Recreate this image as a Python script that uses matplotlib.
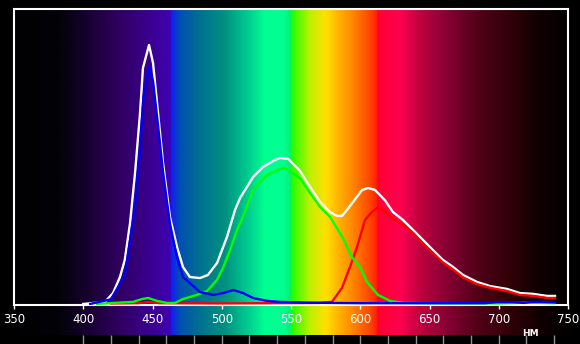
import numpy as np
import matplotlib
matplotlib.use("Agg")
from matplotlib import pyplot as plt
from matplotlib.colors import LinearSegmentedColormap

# spectrum curves (relative units, white peak = 1)
white_nm = [400, 410, 415.7, 421.5, 426.5, 430, 433.8, 437.4, 441, 443.1, 447.5, 450.4, 454, 457.6,
            462.6, 467.7, 472, 477, 484.3, 490, 496.6, 503.8, 509.6, 513.2, 518.2, 522.6, 529.8,
            537, 542, 548, 556.5, 563.7, 570.9, 578.2, 583.2, 586.8, 590.4, 594.8, 601.3, 605.6,
            610.7, 617.9, 623.6, 630.9, 638.1, 645.3, 652.5, 659.7, 667, 674.2, 684.3, 693.7,
            706, 715.4, 724.7, 734.8, 740.6]
white_val = [0.0, 0.005, 0.008, 0.042, 0.104, 0.17, 0.313, 0.506, 0.737, 0.911, 1.0, 0.93, 0.737,
             0.544, 0.336, 0.22, 0.143, 0.104, 0.10, 0.112, 0.158, 0.259, 0.363, 0.409, 0.452,
             0.49, 0.529, 0.552, 0.564, 0.56, 0.514, 0.452, 0.394, 0.355, 0.34, 0.34, 0.363,
             0.394, 0.44, 0.448, 0.44, 0.40, 0.355, 0.324, 0.286, 0.247, 0.208, 0.17, 0.143,
             0.112, 0.085, 0.069, 0.058, 0.042, 0.039, 0.031, 0.031]

blue_nm = [405, 420, 430, 437, 441, 443.5, 447.5, 450.4, 454, 457.6, 462.6, 467.7, 472, 477, 484.3,
           493.7, 501, 508.3, 515.5, 522.6, 532.7, 542, 560, 600, 650, 690, 699, 710, 718, 723,
           730, 740]
blue_val = [0.0, 0.018, 0.11, 0.36, 0.6, 0.8, 0.915, 0.86, 0.69, 0.51, 0.31, 0.18, 0.104, 0.081,
            0.046, 0.035, 0.042, 0.054, 0.042, 0.023, 0.012, 0.008, 0.005, 0.003, 0.003, 0.003,
            0.007, 0.007, 0.004, 0.008, 0.008, 0.006]

green_nm = [410, 421.5, 435.9, 442.4, 446.8, 453.2, 460.5, 466.2, 472, 482.1, 489.4, 496.6, 500.9,
            506, 511, 515.3, 522.6, 532.7, 542, 545.7, 556.5, 563.7, 570.9, 578.2, 587.5, 594,
            599.8, 604.9, 612.8, 621.5, 630.9, 660, 700, 720, 740]
green_val = [0.0, 0.004, 0.008, 0.019, 0.023, 0.012, 0.004, 0.004, 0.019, 0.035, 0.05, 0.093,
             0.139, 0.208, 0.286, 0.336, 0.44, 0.498, 0.521, 0.525, 0.486, 0.429, 0.375, 0.336,
             0.255, 0.181, 0.143, 0.085, 0.035, 0.012, 0.004, 0.002, 0.002, 0.005, 0.003]

red_nm = [420, 440, 447, 455, 500, 570.9, 579.6, 586.8, 592.6, 597.7, 603.4, 608.5, 612.1, 616.4,
          622.9, 630.9, 638, 645, 652.5, 659.7, 667, 674, 684, 694, 706, 715, 725, 735, 740.6]
red_val = [0.002, 0.003, 0.008, 0.003, 0.002, 0.004, 0.008, 0.062, 0.143, 0.22, 0.324, 0.355,
           0.371, 0.363, 0.332, 0.305, 0.275, 0.235, 0.197, 0.16, 0.133, 0.103, 0.077, 0.062,
           0.05, 0.035, 0.031, 0.023, 0.023]

# background spectrum colour stops (nm, hex)
bg_nm = [340, 382, 400, 426, 448, 462.6, 463.8, 470, 484, 502, 520, 531, 545, 549.5, 550.5, 564,
         575, 585, 596, 608, 611.8, 612.8, 629, 643, 665, 686, 708, 730, 748, 760]
bg_hex = ["#000000", "#030208", "#14022a", "#300060", "#3a0090", "#4000b0", "#1020f0", "#0050b0",
          "#007090", "#009080", "#00d090", "#00ff90", "#00ff90", "#00f070", "#20ff00", "#c0f000",
          "#ffe000", "#ffb000", "#ff8000", "#ff4000", "#ff2000", "#ff0030", "#ff0050", "#c00040",
          "#800030", "#500018", "#300008", "#100000", "#050000", "#000000"]

xticks = [350, 400, 450, 500, 550, 600, 650, 700, 750]
scale_ticks = list(range(400, 741, 20))

W, H = 580, 344
L, R = 14 / W, 568 / W
B, T = 39 / H, 335 / H

fig = plt.figure(figsize=(5.8, 3.44), dpi=100, facecolor="black")

span = 400 / (R - L)
x0 = 350 - L * span
x1 = x0 + span

stops = [((n - x0) / (x1 - x0), c) for n, c in zip(bg_nm, bg_hex)]
stops[0] = (0.0, stops[0][1])
stops[-1] = (1.0, stops[-1][1])
cmap = LinearSegmentedColormap.from_list("spec", stops, N=2048)

bg = fig.add_axes([0, 9 / H, 1, 326 / H])
bg.imshow(np.linspace(0, 1, 2000)[None, :], aspect="auto", cmap=cmap,
          extent=[x0, x1, 0, 1], interpolation="bilinear")
bg.set_xlim(x0, x1)
bg.axis("off")

strip = fig.add_axes([0, 0, 1, 9 / H])
strip.set_facecolor("black")
strip.vlines(scale_ticks, 0, 1, color="#909090", lw=1)
strip.set_xlim(x0, x1)
strip.set_ylim(0, 1)
strip.axis("off")

ax = fig.add_axes([L, B, R - L, T - B])
ax.set_facecolor("none")
ax.plot(white_nm, white_val, color="white", lw=1.7, zorder=3)
ax.plot(red_nm, red_val, color="#ff0000", lw=1.7, zorder=4)
ax.plot(green_nm, green_val, color="#00ff00", lw=1.7, zorder=5)
ax.plot(blue_nm, blue_val, color="#0000ff", lw=1.7, zorder=6)
ax.set_xlim(350, 750)
ax.set_ylim(-0.004, 1.139)
ax.set_xticks(xticks)
ax.set_yticks([])
ax.tick_params(axis="x", colors="white", length=3, width=1, pad=3, labelsize=8.5)
for s in ax.spines.values():
    s.set_color("white")
    s.set_linewidth(1.5)

fig.text(530 / W, 1 - 333 / H, "НМ", color="white", fontsize=6.5, fontweight="bold",
         ha="center", va="center")

fig.savefig("out.png", dpi=100, facecolor="black")
